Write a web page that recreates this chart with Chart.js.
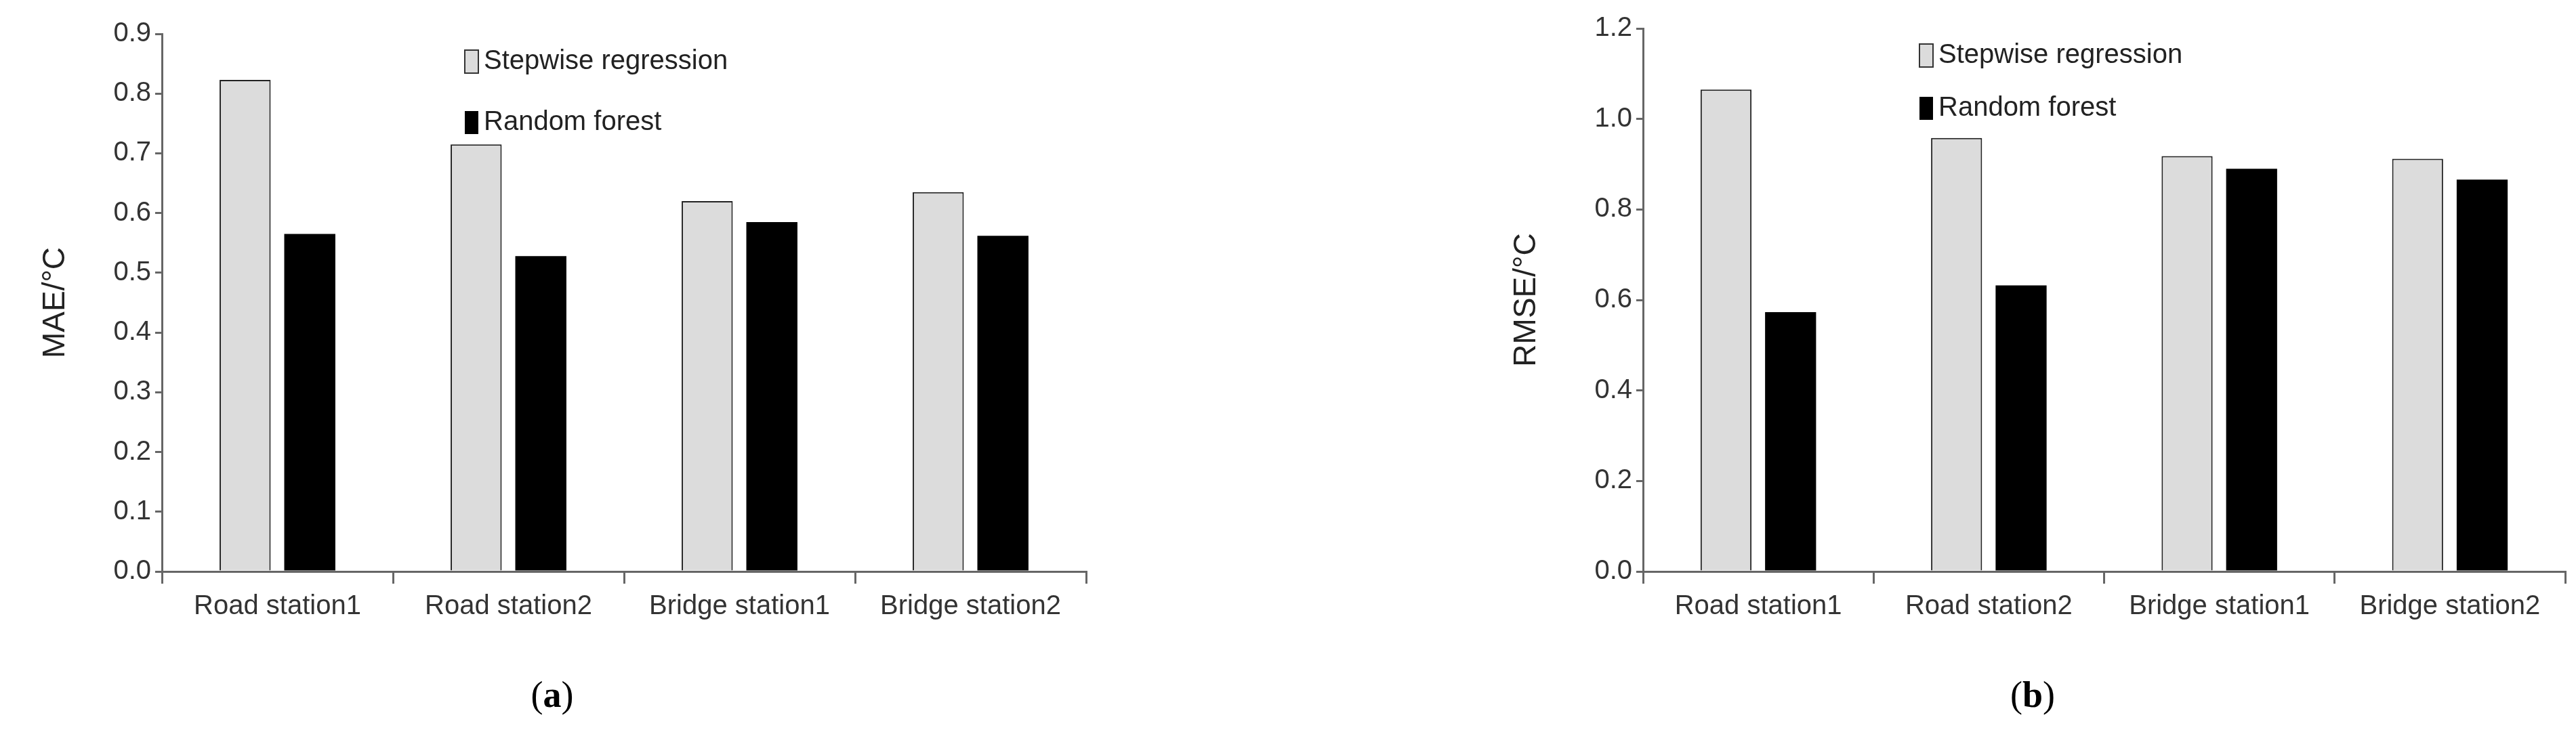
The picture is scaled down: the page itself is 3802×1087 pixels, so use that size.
<!DOCTYPE html>
<html><head><meta charset="utf-8">
<script src="https://cdn.jsdelivr.net/npm/chart.js@4"></script>
<style>
body{margin:0;background:#fff;width:3802px;height:1087px;overflow:hidden;position:relative}
canvas{position:absolute;top:0}
.cap{position:absolute;font-family:"Liberation Serif",serif;font-size:54px;transform:translateX(-50%);top:995px}
</style></head><body>
<canvas id="c1"></canvas><canvas id="c2"></canvas>
<div class="cap" style="left:815px">(<b>a</b>)</div>
<div class="cap" style="left:3000px">(<b>b</b>)</div>
<script>
const categories=["Road station1","Road station2","Bridge station1","Bridge station2"];
const seriesNames=["Stepwise regression","Random forest"];
const maeStepwise=[0.823,0.715,0.620,0.635];
const maeForest=[0.565,0.528,0.585,0.562];
const rmseStepwise=[1.065,0.958,0.918,0.912];
const rmseForest=[0.573,0.632,0.890,0.866];
const maeTicks={min:0,max:0.9,step:0.1};
const rmseTicks={min:0,max:1.2,step:0.2};

const F='"Liberation Sans", Arial, sans-serif';
function make(id,left,width,axisW,title,titlePad,s1,s2,tk,legX,legY){
  const cv=document.getElementById(id);
  const H=960;
  cv.width=width;cv.height=H;
  cv.style.left=left+'px';cv.style.width=width+'px';cv.style.height=H+'px';
  const legendPlugin={id:'lg',afterDraw(ch){
    const c=ch.ctx;c.save();
    c.font='40px '+F;c.textBaseline='middle';
    ch.data.datasets.forEach((d,i)=>{
      const y=legY[i];
      c.fillStyle=d.backgroundColor;c.fillRect(legX,y-17,20,34);
      if(d.borderWidth){c.strokeStyle='#333';c.lineWidth=2;c.strokeRect(legX,y-17,20,34);}
      c.fillStyle='#222';c.fillText(d.label,legX+28,y);
    });
    c.restore();}};
  new Chart(cv,{type:'bar',
    data:{labels:categories,datasets:[
      {label:seriesNames[0],data:s1,backgroundColor:'#dcdcdc',borderColor:'#222',borderWidth:2,borderSkipped:'bottom'},
      {label:seriesNames[1],data:s2,backgroundColor:'#000',borderWidth:0}]},
    options:{responsive:false,animation:false,devicePixelRatio:1,
      layout:{padding:{top:tk.top,right:width-tk.right,left:0,bottom:0}},
      plugins:{legend:{display:false},tooltip:{enabled:false}},
      datasets:{bar:{categoryPercentage:0.56,barPercentage:0.79}},
      scales:{
        x:{offset:true,grid:{offset:true,drawOnChartArea:false,color:'#666',lineWidth:3,tickLength:18,tickColor:'#666'},
           border:{color:'#666',width:3},
           ticks:{color:'#333',font:{family:F,size:40},padding:10,maxRotation:0,autoSkip:false},
           afterFit(a){a.height=H-844;}},
        y:{min:tk.min,max:tk.max,grid:{drawOnChartArea:false,color:'#666',lineWidth:3,tickLength:10,tickColor:'#666'},
           border:{color:'#666',width:3},
           ticks:{stepSize:tk.step,color:'#333',font:{family:F,size:40},padding:6,callback:v=>v.toFixed(1)},
           title:{display:true,text:title,color:'#222',font:{family:F,size:46},padding:{top:titlePad,bottom:0}},
           afterFit(a){a.width=axisW;}}
      }},
    plugins:[legendPlugin]});
}
make('c1',0,1640,239,'MAE/°C',55,maeStepwise,maeForest,Object.assign({top:50,right:1603},maeTicks),686,[91,181]);
make('c2',1900,1902,525,'RMSE/°C',326,rmseStepwise,rmseForest,Object.assign({top:42,right:1886},rmseTicks),2833-1900,[82,160]);
</script></body></html>
